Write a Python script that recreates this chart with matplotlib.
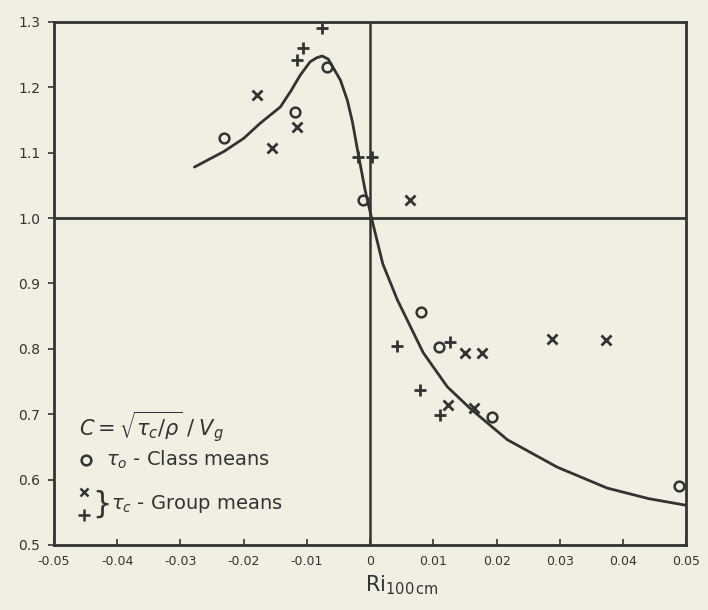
import matplotlib.pyplot as plt

# ------------------------------------------------------------------
# data
# ------------------------------------------------------------------
class_x = [-0.0231, -0.0119, -0.0068, -0.0011, 0.0081, 0.0109, 0.0193, 0.0489]
class_y = [1.122, 1.162, 1.231, 1.028, 0.856, 0.803, 0.696, 0.590]

group_x_x = [-0.0179, -0.0155, -0.0116, 0.0063, 0.0150, 0.0177, 0.0288, 0.0373, 0.0123, 0.0165]
group_x_y = [1.188, 1.107, 1.139, 1.028, 0.794, 0.794, 0.815, 0.813, 0.714, 0.709]

group_p_x = [-0.0076, -0.0106, -0.0116, -0.0019, 0.0003, 0.0043, 0.0127, 0.0079, 0.0111]
group_p_y = [1.291, 1.260, 1.242, 1.093, 1.093, 0.804, 0.810, 0.737, 0.699]

curve_x = [-0.0278, -0.0231, -0.0200, -0.0174, -0.0142, -0.0125, -0.0111, -0.0095,
           -0.0085, -0.0076, -0.0066, -0.0059, -0.0047, -0.0036, -0.0028, -0.0019,
           -0.0008, 0.0003, 0.0020, 0.0043, 0.0084, 0.0122, 0.0158, 0.0217,
           0.0296, 0.0375, 0.0440, 0.0498]
curve_y = [1.078, 1.102, 1.122, 1.145, 1.170, 1.195, 1.218, 1.239,
           1.245, 1.248, 1.243, 1.231, 1.211, 1.180, 1.147, 1.099,
           1.043, 0.997, 0.930, 0.875, 0.794, 0.742, 0.709, 0.661,
           0.619, 0.587, 0.571, 0.561]

xticks = [-0.05, -0.04, -0.03, -0.02, -0.01, 0.0, 0.01, 0.02, 0.03, 0.04, 0.05]
xtick_labels = ['-0.05', '-0.04', '-0.03', '-0.02', '-0.01', '0',
                '0.01', '0.02', '0.03', '0.04', '0.05']
yticks = [0.5, 0.6, 0.7, 0.8, 0.9, 1.0, 1.1, 1.2, 1.3]
ytick_labels = ['0.5', '0.6', '0.7', '0.8', '0.9', '1.0', '1.1', '1.2', '1.3']

# ------------------------------------------------------------------
# styling
# ------------------------------------------------------------------
BG = '#f1efe1'
INK = '#333333'

fig = plt.figure(figsize=(7.08, 6.10), dpi=100, facecolor=BG)
ax = fig.add_axes([0.0763, 0.1066, 0.893, 0.8574], facecolor=BG)

# reference lines through C = 1 and Ri = 0
ax.axhline(1.0, color=INK, lw=2.0)
ax.axvline(0.0, color=INK, lw=1.8)

# fitted curve
ax.plot(curve_x, curve_y, color=INK, lw=2.0, solid_joinstyle='round',
        solid_capstyle='round')

# points
ax.plot(class_x, class_y, 'o', ms=7, mfc='none', mec=INK, mew=1.8)
ax.plot(group_x_x, group_x_y, 'x', ms=7, mec=INK, mew=2.0)
ax.plot(group_p_x, group_p_y, '+', ms=9, mec=INK, mew=2.0)

ax.set_xlim(-0.05, 0.05)
ax.set_ylim(0.5, 1.3)

for s in ax.spines.values():
    s.set_color(INK)
    s.set_linewidth(2.0)

ax.set_xticks(xticks)
ax.set_xticklabels(xtick_labels)
ax.set_yticks(yticks)
ax.set_yticklabels(ytick_labels)
ax.tick_params(axis='x', direction='in', length=4, width=1.2, colors=INK,
               labelsize=9, pad=7)
ax.tick_params(axis='y', direction='out', length=4, width=1.2, colors=INK,
               labelsize=10, pad=6)

ax.set_xlabel(r'$\mathrm{Ri}_{100\,\mathrm{cm}}$', fontsize=15, color=INK)
ax.xaxis.set_label_coords(0.55, -0.055)

# hand-written key in the lower-left corner
ax.text(-0.0460, 0.680, r'$C = \sqrt{\tau_c/\rho}\;/\;V_g$', fontsize=15,
        color=INK, va='center')
ax.plot([-0.0450], [0.630], 'o', ms=7, mfc='none', mec=INK, mew=1.8)
ax.text(-0.0418, 0.630, r'$\tau_o$ - Class means', fontsize=14,
        color=INK, va='center')
ax.plot([-0.0453], [0.581], 'x', ms=6, mec=INK, mew=1.8)
ax.plot([-0.0453], [0.546], '+', ms=8, mec=INK, mew=1.8)
ax.text(-0.0440, 0.563, r'$\}$', fontsize=22, color=INK, va='center')
ax.text(-0.0410, 0.563, r'$\tau_c$ - Group means', fontsize=14,
        color=INK, va='center')

fig.savefig('out.png', dpi=100, facecolor=BG)
